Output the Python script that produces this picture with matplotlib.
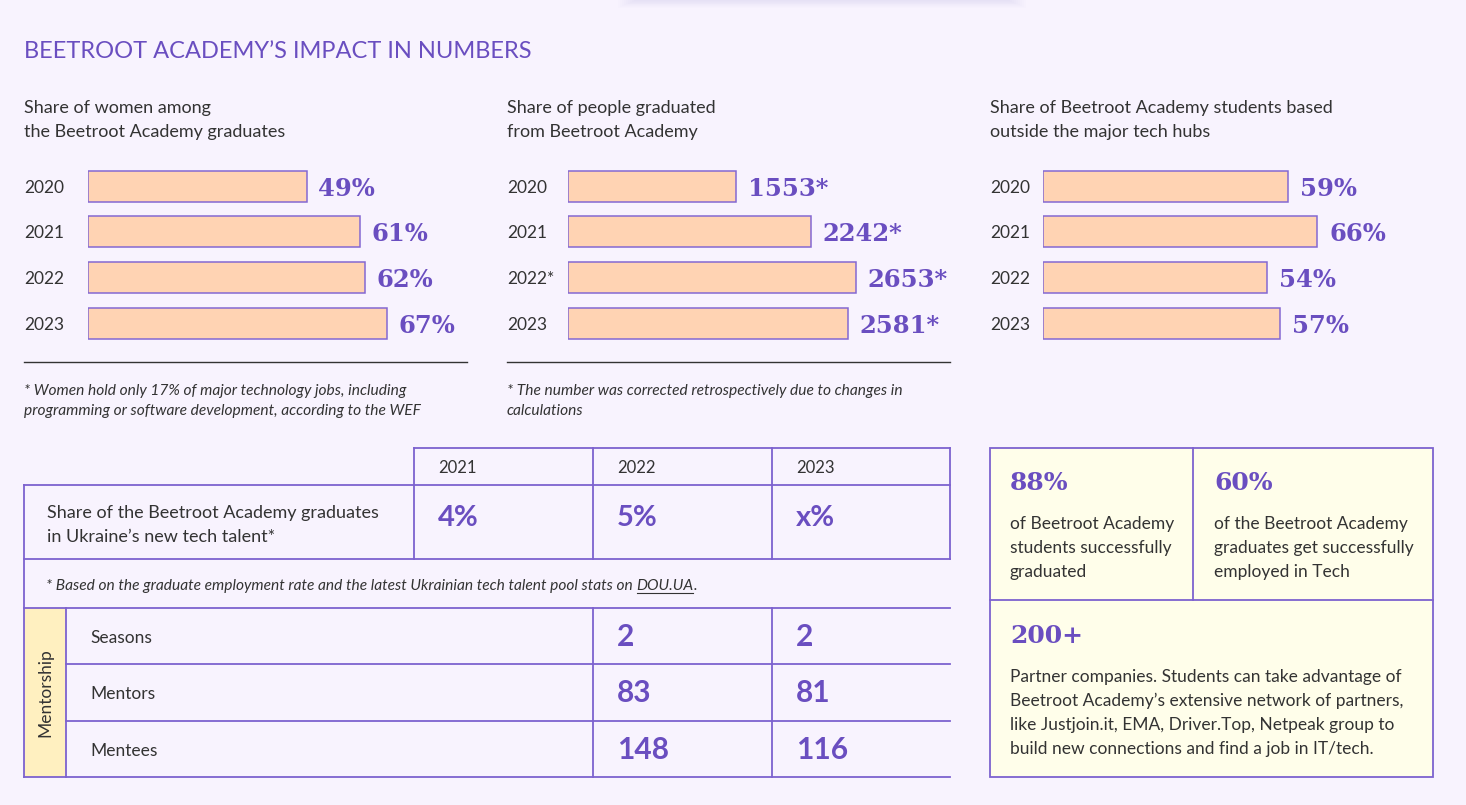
import matplotlib
matplotlib.use("Agg")
import matplotlib.pyplot as plt
from matplotlib.patches import Rectangle
from matplotlib import transforms

# ---------------- data ----------------
years = ["2020", "2021", "2022", "2023"]
years_grad = ["2020", "2021", "2022*", "2023"]
women_share = [49, 61, 62, 67]
graduated = [1553, 2242, 2653, 2581]
outside_hubs = [59, 66, 54, 57]

table_years = ["2021", "2022", "2023"]
talent_share = ["4%", "5%", "x%"]
mentor_rows = ["Seasons", "Mentors", "Mentees"]
mentor_2022 = [2, 83, 148]
mentor_2023 = [2, 81, 116]

# ---------------- style ----------------
W, H = 1466, 805
BG = "#F8F3FE"
PURPLE = "#6A4EC0"
BORDER = "#7D62CF"
BAR = "#FFD3B3"
DARK = "#333333"
SANS = ["Lato", "DejaVu Sans"]
SERIF = ["DejaVu Serif"]
DY = 1.5  # small downward nudge for text centring

plt.rcParams["font.family"] = SANS
fig = plt.figure(figsize=(W / 100, H / 100), dpi=100, facecolor=BG)

bg = fig.add_axes([0, 0, 1, 1])
bg.set_xlim(0, W)
bg.set_ylim(H, 0)
bg.axis("off")
bg.set_facecolor(BG)

def T(x, y, s, **kw):
    kw.setdefault("va", "center")
    kw.setdefault("ha", "left")
    kw.setdefault("color", DARK)
    return bg.text(x, y + DY, s, **kw)

# faint shadow of a floating element at the top
for k in range(10):
    bg.add_patch(Rectangle((636 - k * 2, -20), 372 + k * 4, 20 + k * 0.9,
                           facecolor="#B9A6DA", edgecolor="none", alpha=0.025, zorder=0))

# title
T(24, 50, "BEETROOT ACADEMY\u2019S IMPACT IN NUMBERS", color=PURPLE, fontsize=17)

def px_axes(x0, y0, x1, y1):
    return fig.add_axes([x0 / W, 1 - y1 / H, (x1 - x0) / W, (y1 - y0) / H])

slot = 45.67
centers_top = 186

def bar_chart(x_left, scale, values, labels, ylabels, title_lines, title_x):
    ax = px_axes(x_left, centers_top - slot / 2, x_left + 420, centers_top + 3.5 * slot)
    ax.set_xlim(0, 420 / scale)
    ax.set_ylim(3.5, -0.5)
    ax.axis("off")
    ax.patch.set_alpha(0)
    ax.barh(range(len(values)), values, height=31 / slot, color=BAR,
            edgecolor="#8468D2", linewidth=1.1)
    tr = transforms.blended_transform_factory(bg.transData, ax.transData)
    for i, (v, lab, yl) in enumerate(zip(values, labels, ylabels)):
        ax.annotate(lab, (v, i), xytext=(8.5, -1.8), textcoords="offset points",
                    va="center", ha="left", fontsize=17.5, fontweight="bold",
                    color=PURPLE, family=SERIF)
        ax.annotate(yl, (title_x, i), xycoords=tr, xytext=(0, -1.2),
                    textcoords="offset points", va="center", ha="left",
                    fontsize=12.5, color=DARK)
    for j, line in enumerate(title_lines):
        T(title_x, 107 + j * 24, line, fontsize=13)
    return ax

bar_chart(88, 4.46, women_share, [f"{v}%" for v in women_share], years,
          ["Share of women among", "the Beetroot Academy graduates"], 24)
bar_chart(568, 0.1084, graduated, [f"{v}*" for v in graduated], years_grad,
          ["Share of people graduated", "from Beetroot Academy"], 507)
bar_chart(1043.3, 4.15, outside_hubs, [f"{v}%" for v in outside_hubs], years,
          ["Share of Beetroot Academy students based", "outside the major tech hubs"], 990)

# separators and footnotes
bg.plot([24, 467], [362, 362], color=DARK, lw=1.0)
bg.plot([507, 950], [362, 362], color=DARK, lw=1.0)
FN = 11.2
T(24, 389, "* Women hold only 17% of major technology jobs, including", fontsize=FN, style="italic")
T(24, 409, "programming or software development, according to the WEF", fontsize=FN, style="italic")
T(507, 389, "* The number was corrected retrospectively due to changes in", fontsize=FN, style="italic")
T(507, 409, "calculations", fontsize=FN, style="italic")

# ---------------- left table ----------------
LW = 1.3
def hline(y, x0, x1):
    bg.plot([x0, x1], [y, y], color=BORDER, lw=LW, solid_capstyle="projecting", zorder=3)
def vline(x, y0, y1):
    bg.plot([x, x], [y0, y1], color=BORDER, lw=LW, solid_capstyle="projecting", zorder=3)

bg.add_patch(Rectangle((24, 608), 42, 169, facecolor="#FFF0C0", edgecolor="none", zorder=1))

col_x = [414, 593, 772, 950]
hline(448, 414, 950)
hline(485, 24, 950)
hline(559, 24, 950)
hline(608, 24, 950)
hline(664, 66, 950)
hline(721, 66, 950)
hline(777, 24, 950)
for x in col_x:
    vline(x, 448, 559)
vline(24, 485, 777)
vline(66, 608, 777)
vline(593, 608, 777)
vline(772, 608, 777)

for x, y in zip(col_x[:3], table_years):
    T(x + 24, 466, y, fontsize=12)
T(47, 511, "Share of the Beetroot Academy graduates", fontsize=13)
T(47, 535, "in Ukraine\u2019s new tech talent*", fontsize=13)
for x, v in zip(col_x[:3], talent_share):
    T(x + 24, 516, v, fontsize=21, fontweight="bold", color=PURPLE)

t1 = T(46, 584, "* Based on the graduate employment rate and the latest Ukrainian tech talent pool stats on ",
       fontsize=FN, style="italic")
fig.canvas.draw()
r = fig.canvas.get_renderer()
ext = t1.get_window_extent(r)
inv = bg.transData.inverted()
x_end = inv.transform((ext.x1, ext.y0))[0]
t2 = T(x_end, 584, "DOU.UA", fontsize=FN, style="italic")
ext2 = t2.get_window_extent(r)
x_end2 = inv.transform((ext2.x1, ext2.y0))[0]
T(x_end2, 584, ".", fontsize=FN, style="italic")
bg.plot([x_end + 1, x_end2 - 1], [593, 593], color=DARK, lw=0.8)

bg.text(45, 692.5, "Mentorship", rotation=90, fontsize=12.5, color=DARK,
        va="center", ha="center")
row_centers = [636, 692.5, 749]
for yc, name, v22, v23 in zip(row_centers, mentor_rows, mentor_2022, mentor_2023):
    T(90, yc, name, fontsize=12.5)
    T(617, yc - 1, str(v22), fontsize=21.5, fontweight="bold", color=PURPLE)
    T(796, yc - 1, str(v23), fontsize=21.5, fontweight="bold", color=PURPLE)

# ---------------- right box ----------------
bg.add_patch(Rectangle((990, 448), 443, 329, facecolor="#FFFEEA", edgecolor=BORDER,
                       lw=LW, zorder=1))
vline(1193, 448, 600)
hline(600, 990, 1433)

T(1010, 481, "88%", fontsize=18, fontweight="bold", color=PURPLE, family=SERIF)
T(1214, 481, "60%", fontsize=18, fontweight="bold", color=PURPLE, family=SERIF)
for j, line in enumerate(["of Beetroot Academy", "students successfully", "graduated"]):
    T(1010, 522 + 24 * j, line, fontsize=12.5)
for j, line in enumerate(["of the Beetroot Academy", "graduates get successfully", "employed in Tech"]):
    T(1214, 522 + 24 * j, line, fontsize=12.5)
T(1010, 634, "200+", fontsize=18, fontweight="bold", color=PURPLE, family=SERIF)
para = ["Partner companies. Students can take advantage of",
        "Beetroot Academy\u2019s extensive network of partners,",
        "like Justjoin.it, EMA, Driver.Top, Netpeak group to",
        "build new connections and find a job in IT/tech."]
for j, line in enumerate(para):
    T(1010, 675 + 24 * j, line, fontsize=12.5)

fig.savefig("out.png", dpi=100, facecolor=BG)
